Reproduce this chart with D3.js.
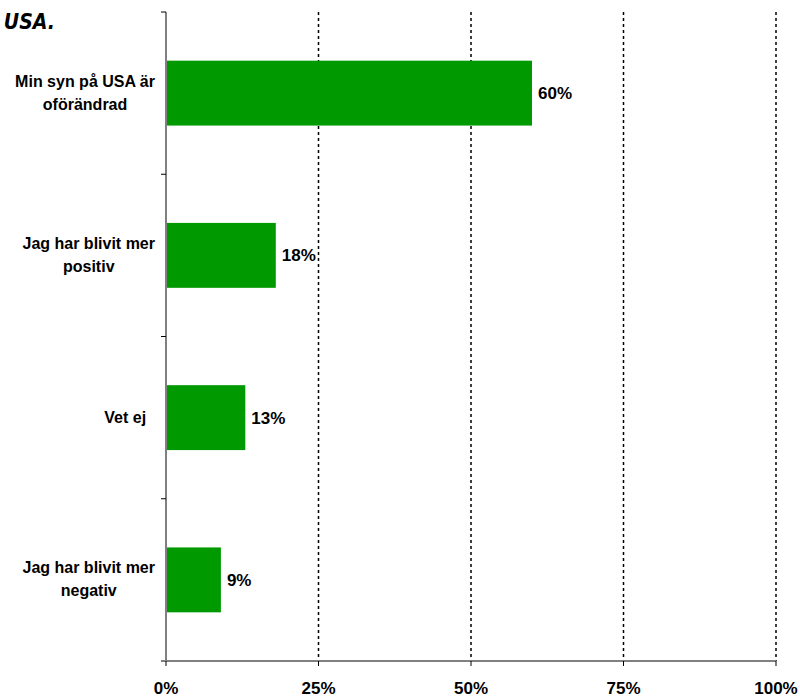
<!DOCTYPE html>
<html>
<head>
<meta charset="utf-8">
<script src="https://cdn.jsdelivr.net/npm/d3@7"></script>
<style>
  body { margin: 0; background: #fff; }
  text { font-family: "Liberation Sans", Arial, sans-serif; font-weight: bold; fill: #000; white-space: pre; }
</style>
</head>
<body>
<div id="wrapper"></div>
<script>
// data
const categories = [
    ["Min syn på USA är", "oförändrad"],
    ["Jag har blivit mer", "positiv"],
    ["Vet ej  "],
    ["Jag har blivit mer", "negativ"],
]
const values = [60, 18, 13, 9]
const ticks = [0, 25, 50, 75, 100]
const titleText = "Har din syn på USA förändrats efter valet i USA."

// dimensions
let dimensions = {
    width: 800,
    height: 697,
    margin: { top: 12, right: 24, bottom: 36, left: 166 },
}
dimensions.boundedWidth = dimensions.width - dimensions.margin.left - dimensions.margin.right
dimensions.boundedHeight = dimensions.height - dimensions.margin.top - dimensions.margin.bottom

const wrapper = d3.select("#wrapper")
    .append("svg")
    .attr("width", dimensions.width)
    .attr("height", dimensions.height)

const bounds = wrapper.append("g")
    .attr("transform", `translate(${dimensions.margin.left}, ${dimensions.margin.top})`)

// scales
const xScale = d3.scaleLinear()
    .domain([0, 100])
    .range([0, dimensions.boundedWidth])

const yScale = d3.scaleBand()
    .domain(d3.range(categories.length))
    .range([0, dimensions.boundedHeight])
    .paddingInner(0.6)
    .paddingOuter(0.3)

const step = yScale.step()

// gridlines
bounds.selectAll(".grid")
    .data(ticks.filter(d => d > 0))
    .enter().append("line")
    .attr("x1", d => xScale(d))
    .attr("x2", d => xScale(d))
    .attr("y1", 0)
    .attr("y2", dimensions.boundedHeight)
    .attr("stroke", "#000")
    .attr("stroke-width", 1.5)
    .attr("stroke-dasharray", "3,3")

// bars
bounds.selectAll(".bar")
    .data(values)
    .enter().append("rect")
    .attr("x", 0)
    .attr("y", (d, i) => yScale(i))
    .attr("width", d => xScale(d))
    .attr("height", yScale.bandwidth())
    .attr("fill", "#009900")

// value labels
bounds.selectAll(".value")
    .data(values)
    .enter().append("text")
    .attr("x", d => xScale(d) + 6)
    .attr("y", (d, i) => yScale(i) + yScale.bandwidth() / 2 + 6)
    .attr("font-size", 17)
    .text(d => `${d}%`)

// y axis line + ticks
bounds.append("line")
    .attr("x1", 0).attr("x2", 0)
    .attr("y1", 0).attr("y2", dimensions.boundedHeight)
    .attr("stroke", "#808080").attr("stroke-width", 2)

bounds.selectAll(".ytick")
    .data(d3.range(categories.length + 1))
    .enter().append("line")
    .attr("x1", -5).attr("x2", 0)
    .attr("y1", d => d * step)
    .attr("y2", d => d * step)
    .attr("stroke", "#000")

// x axis
const xAxis = bounds.append("g")
    .attr("transform", `translate(0, ${dimensions.boundedHeight})`)

xAxis.append("line")
    .attr("x1", -5).attr("x2", dimensions.boundedWidth)
    .attr("stroke", "#808080").attr("stroke-width", 2)

xAxis.selectAll(".xtick")
    .data(ticks)
    .enter().append("line")
    .attr("x1", d => xScale(d)).attr("x2", d => xScale(d))
    .attr("y1", 0).attr("y2", 5)
    .attr("stroke", "#000")

xAxis.selectAll(".xlabel")
    .data(ticks)
    .enter().append("text")
    .attr("x", d => xScale(d))
    .attr("y", 33)
    .attr("text-anchor", "middle")
    .attr("font-size", 17)
    .text(d => `${d}%`)

// category labels: block right-aligned, lines centred inside
const catGroups = bounds.selectAll(".cat")
    .data(categories)
    .enter().append("g")

catGroups.each(function (lines, i) {
    const g = d3.select(this)
    const texts = lines.map((l, j) => g.append("text")
        .attr("font-size", 16)
        .attr("text-anchor", "middle")
        .text(l))
    const widths = texts.map(t => t.node().getComputedTextLength())
    const maxW = d3.max(widths)
    const cx = -11 - maxW / 2
    const lineH = 23
    const cy = yScale(i) + yScale.bandwidth() / 2
    const top = cy - (lines.length - 1) * lineH / 2 + 5
    texts.forEach((t, j) => t.attr("x", cx).attr("y", top + j * lineH))
})

// title (cut off at left edge, as in original)
wrapper.append("text")
    .attr("x", 55)
    .attr("y", 29)
    .attr("text-anchor", "end")
    .attr("font-size", 21)
    .attr("font-style", "italic")
    .style("font-family", "'DejaVu Sans Condensed', 'DejaVu Sans', sans-serif")
    .text(titleText)
</script>
</body>
</html>
